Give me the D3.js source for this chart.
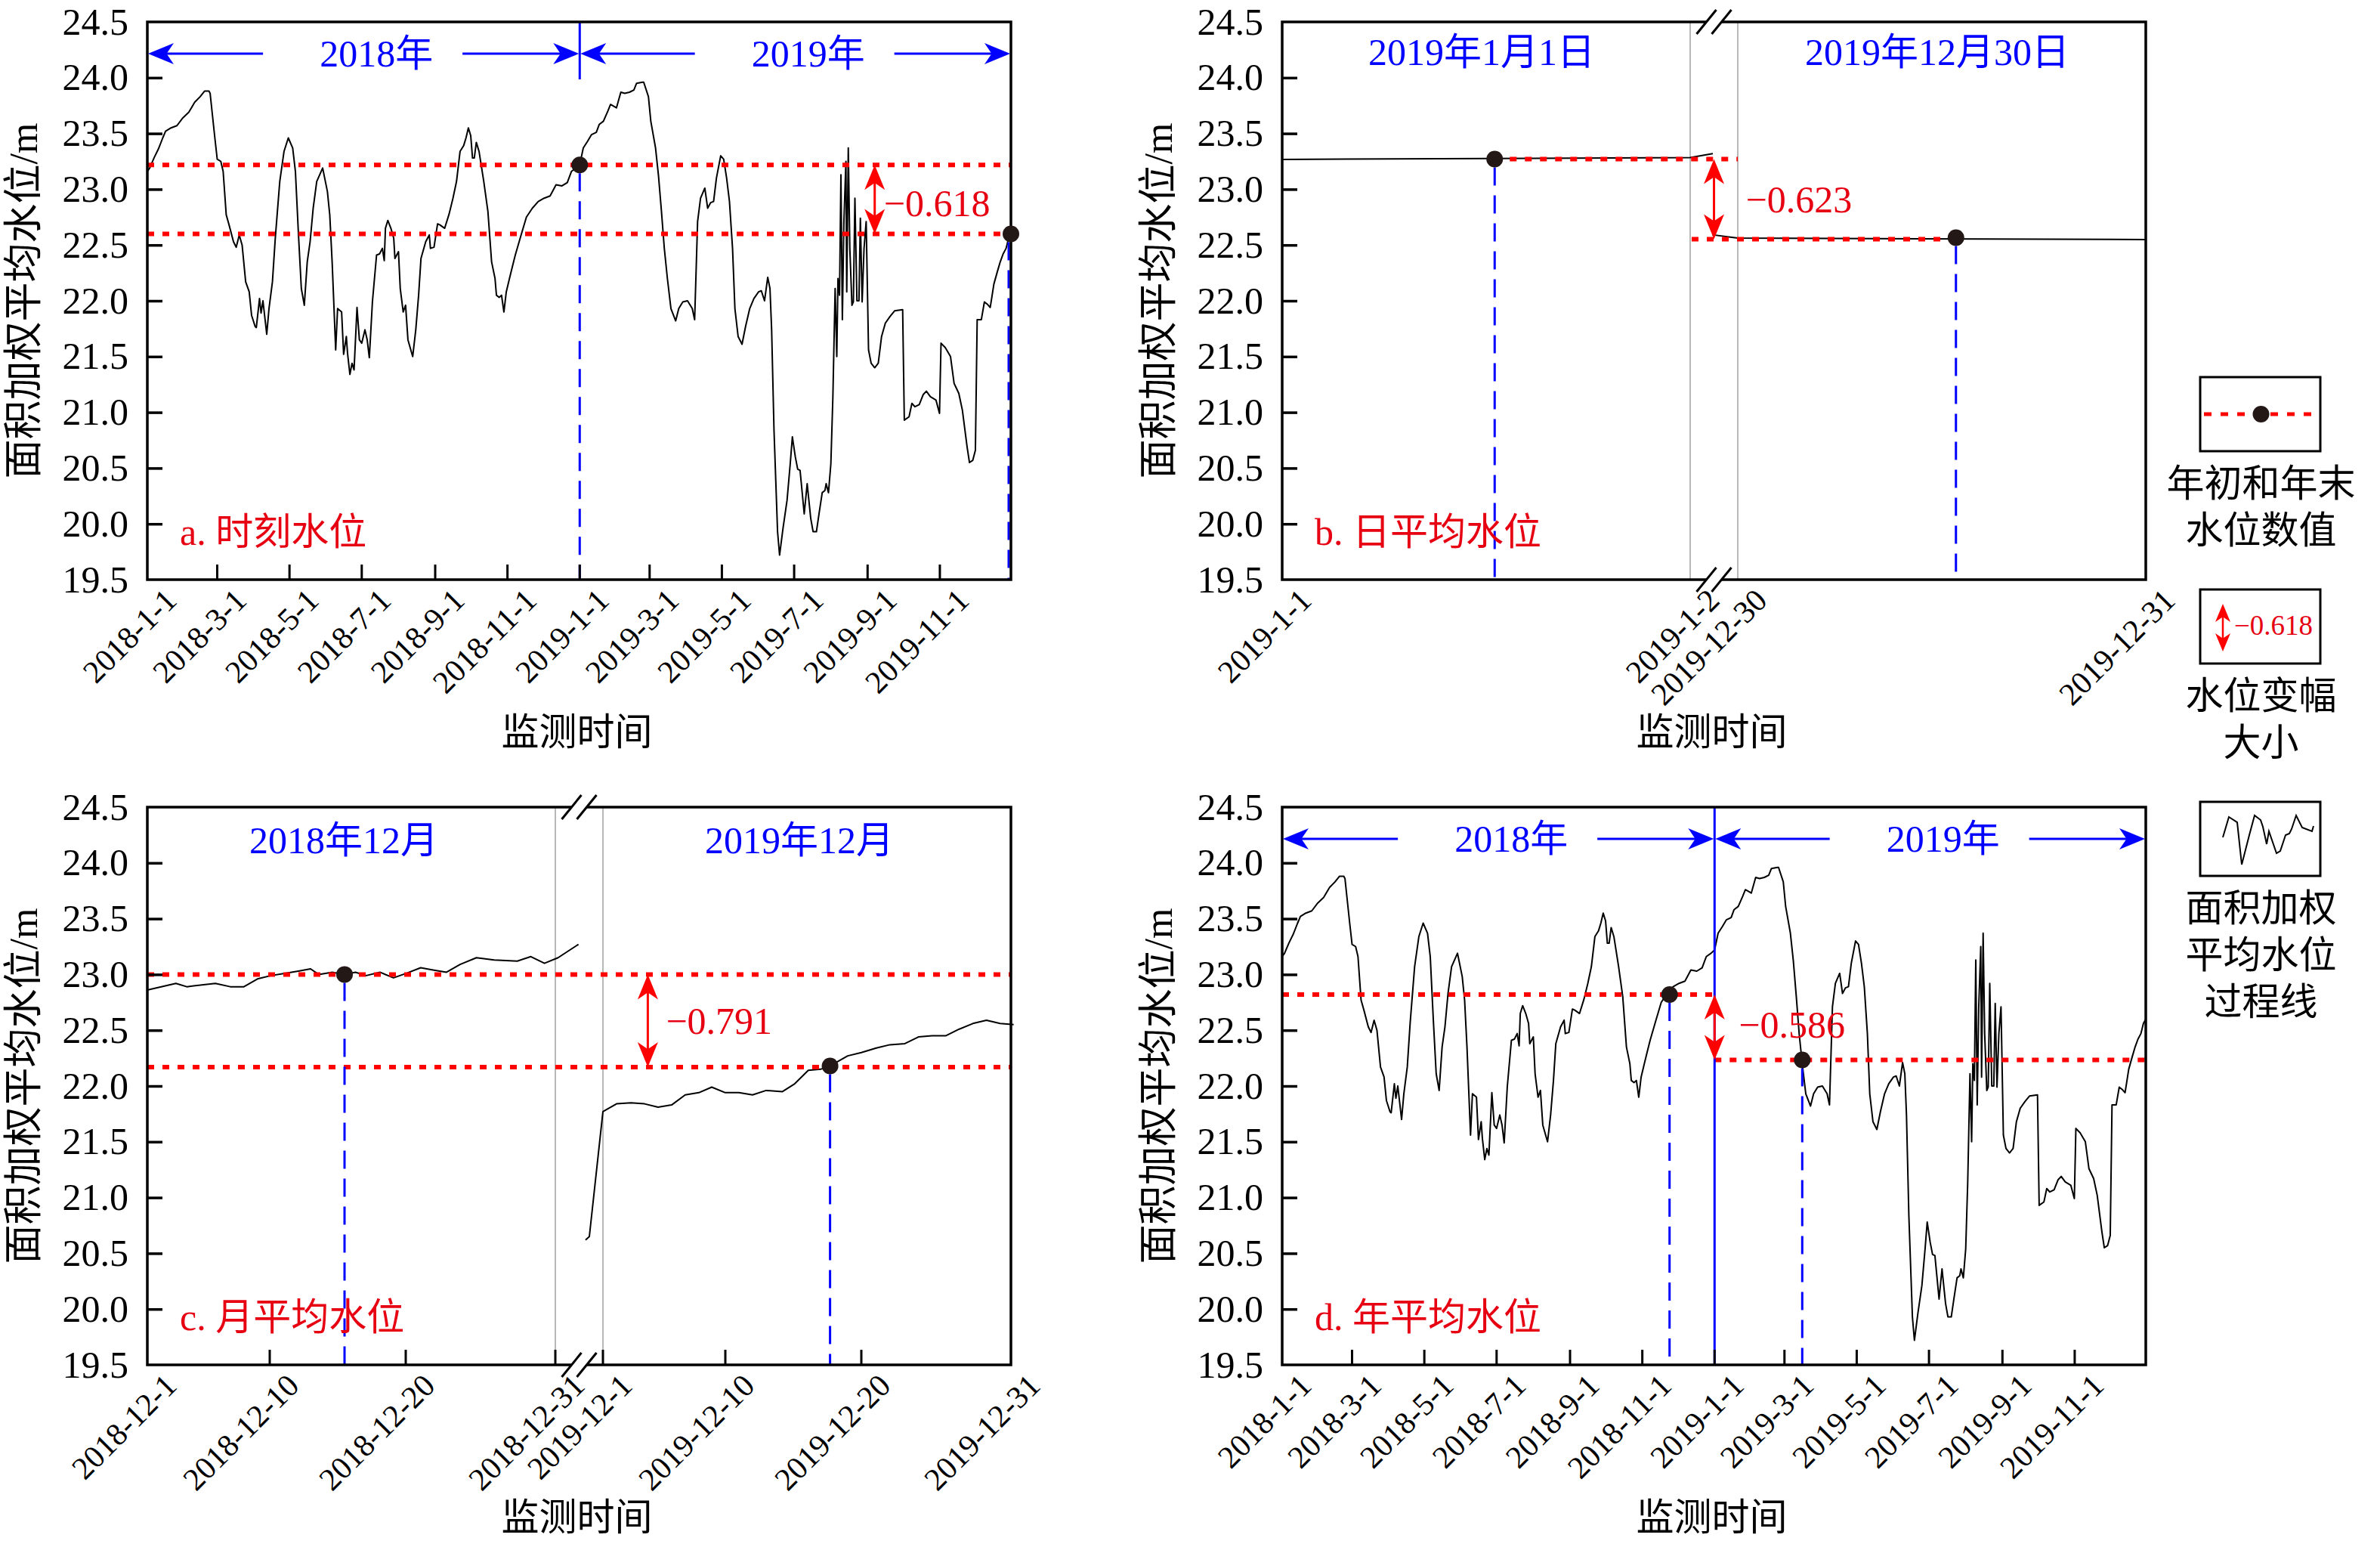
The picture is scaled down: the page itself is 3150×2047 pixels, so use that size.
<!DOCTYPE html>
<html>
<head>
<meta charset="utf-8" />
<script src="https://d3js.org/d3.v7.min.js"></script>
<style>
  body { margin: 0; background: #fff; }
  text { font-family: "Liberation Serif", "Times New Roman", "Noto Sans CJK SC", serif; }
</style>
</head>
<body>
<svg id="chart" width="3150" height="2047" style="background:#fff"></svg>
<script>
// ---------- data ----------
// area-weighted mean water level, days since 2018-01-01
const seriesDay = [0, 2, 5.6, 9.3, 13, 15.4, 20, 25, 30, 35, 40, 44.6, 48.3, 52, 53, 55, 57, 59, 62, 64,
  66.6, 69, 72.7, 75, 77.6, 80, 83, 86, 88, 91, 92, 94.7, 96, 97.6, 100.8, 102.7, 105.6, 108, 111.8, 115.4,
  119, 122.7, 125, 127.6, 130, 132.5, 135, 137.4, 140, 143, 148, 152, 154, 156, 159, 160.6, 164, 165.7, 168, 169,
  171, 172.8, 174.5, 177, 179, 181, 183.7, 185.6, 187.4, 190, 193.5, 196, 198.4, 200, 201, 203, 205.6, 208, 209, 212,
  213.5, 216, 218, 220, 224, 226.6, 229, 231, 235, 238, 239, 242, 245, 247, 251, 254.8, 258, 261, 264, 267,
  269, 271, 273, 274.5, 276, 277.7, 280, 284, 287.5, 290.6, 293.5, 294.7, 297, 299, 301, 303, 305.7, 308, 310.6, 315.5,
  320, 325, 330, 335, 340, 345, 350, 354.5, 358, 362, 365,
  368, 371.6, 375, 379, 381.4, 385, 388.7, 391, 396, 399.7, 403, 407, 410.7, 413, 418, 419, 423, 425, 429, 431.5,
  434, 436.4, 439, 442, 446, 448.6, 452, 456, 460, 462, 464.5, 467, 470.6, 473, 475.5, 478, 480.4, 484, 486.5, 489,
  491.4, 494, 496, 498.7, 502, 505, 508.5, 512, 516, 518.3, 521, 523.7, 525.6, 527, 529, 532, 533.7, 536.6, 540, 542.7,
  544.5, 547, 549, 551, 554.5, 557, 560, 562, 564.8, 567, 569.7, 572, 573, 575, 577, 578.7, 580.6, 582, 583, 584.3,
  585.5, 586.7, 588, 589.7, 590.4, 591.7, 593, 594.8, 596, 597.3, 599, 600.7, 601.9, 603.4, 605, 606.8, 608.8, 611, 614, 617,
  619.8, 623, 627, 630.8, 637.6, 639, 643, 645.4, 648, 651.6, 655, 657.6, 661, 665.7, 668.7, 670, 673.6, 678, 681, 685,
  688, 692, 694, 696.8, 699, 700.5, 704, 706.6, 709, 711.5, 712.7, 714.6, 717.5, 720, 722.4, 724.9, 727, 729];
const seriesLevel = [23.16, 23.19, 23.28, 23.36, 23.46, 23.52, 23.55, 23.57, 23.64, 23.69, 23.78, 23.83, 23.88, 23.88, 23.86, 23.66, 23.46, 23.27, 23.25, 23.16,
  22.77, 22.68, 22.53, 22.48, 22.59, 22.50, 22.17, 22.08, 21.87, 21.77, 21.76, 22.02, 21.89, 22.00, 21.70, 21.93, 22.17, 22.56, 23.07, 23.34,
  23.46, 23.37, 23.16, 22.59, 22.11, 21.96, 22.35, 22.53, 22.83, 23.07, 23.19, 22.98, 22.77, 22.35, 21.56, 21.93, 21.90, 21.52, 21.68, 21.53,
  21.34, 21.44, 21.38, 21.94, 21.65, 21.62, 21.74, 21.65, 21.49, 21.99, 22.41, 22.42, 22.47, 22.36, 22.65, 22.72, 22.65, 22.56, 22.38, 22.44,
  22.11, 21.90, 21.96, 21.65, 21.50, 21.74, 22.05, 22.38, 22.53, 22.59, 22.47, 22.48, 22.69, 22.68, 22.65, 22.78, 22.92, 23.07, 23.34, 23.39,
  23.46, 23.55, 23.48, 23.28, 23.28, 23.42, 23.34, 23.07, 22.80, 22.35, 22.20, 22.05, 22.03, 22.05, 21.90, 22.08, 22.20, 22.30, 22.41, 22.59,
  22.75, 22.83, 22.89, 22.92, 22.94, 23.04, 23.03, 23.06, 23.16, 23.19, 23.22,
  23.37, 23.43, 23.49, 23.51, 23.58, 23.61, 23.70, 23.76, 23.73, 23.87, 23.86, 23.87, 23.89, 23.95, 23.96, 23.96, 23.83, 23.61, 23.37, 23.12,
  22.80, 22.47, 22.20, 21.93, 21.82, 21.93, 21.99, 22.00, 21.93, 21.83, 22.71, 22.92, 23.01, 22.83, 22.88, 22.89, 23.10, 23.30, 23.27, 23.10,
  22.89, 22.47, 21.93, 21.68, 21.61, 21.77, 21.93, 22.02, 22.08, 22.09, 22.00, 22.21, 22.11, 21.74, 20.84, 19.93, 19.72, 19.96, 20.21, 20.54,
  20.78, 20.60, 20.49, 20.48, 20.09, 20.36, 20.05, 19.93, 19.93, 20.09, 20.28, 20.30, 20.36, 20.28, 20.54, 21.14, 22.11, 21.50, 22.20, 22.05,
  23.13, 21.83, 22.71, 23.25, 22.08, 23.37, 22.47, 21.96, 21.99, 22.92, 22.00, 22.00, 22.74, 21.99, 22.47, 22.71, 21.56, 21.44, 21.40, 21.44,
  21.68, 21.80, 21.86, 21.91, 21.92, 20.93, 20.96, 21.08, 21.05, 21.07, 21.16, 21.19, 21.14, 21.11, 20.99, 21.62, 21.58, 21.50, 21.26, 21.17,
  21.02, 20.69, 20.55, 20.57, 20.66, 21.83, 21.83, 21.99, 21.97, 21.94, 22.02, 22.15, 22.26, 22.35, 22.42, 22.47, 22.56, 22.60];

// panel b: daily mean, first and last days of 2019
const dayStartTime = ["2019-1-1 00:00", "2019-1-2 00:00", "2019-1-2 01:20"];
const dayStartLevel = [23.267, 23.284, 23.32];
const dayEndTime = ["2019-12-29 22:30", "2019-12-30 00:00", "2019-12-31 00:00"];
const dayEndLevel = [22.592, 22.562, 22.549];

// panel c: monthly mean, days since the 1st of December
const dec2018Day = [0, 2.1, 2.9, 5.0, 6.1, 7.1, 8.1, 9.1, 10.1, 11.1, 12.0, 12.6, 13.6, 14.5, 15.3, 16.1, 17.1, 18.1, 19.05, 20.1,
  21.0, 22.0, 23.0, 24.2, 25.5, 27.2, 28.2, 29.2, 30.2, 31.7];
const dec2018Level = [22.86, 22.92, 22.89, 22.92, 22.89, 22.89, 22.96, 22.99, 23.01, 23.03, 23.05, 23.00, 23.02, 23.00, 23.02, 22.99, 23.02, 22.97, 23.01, 23.06,
  23.04, 23.02, 23.09, 23.15, 23.13, 23.12, 23.16, 23.10, 23.15, 23.27];
const dec2019Day = [-1.28, -1.0, 0, 1.0, 2.06, 3.06, 4.05, 5.05, 6.05, 7.05, 8.0, 9.0, 10.0, 11.0, 12.0, 13.2, 14.1, 15.1, 16.0, 16.7,
  18.0, 19.0, 20.1, 21.1, 22.2, 23.2, 24.2, 25.2, 26.2, 27.2, 28.2, 29.2, 30.2];
const dec2019Level = [20.62, 20.65, 21.77, 21.84, 21.85, 21.84, 21.81, 21.83, 21.92, 21.94, 21.99, 21.94, 21.94, 21.92, 21.96, 21.95, 22.02, 22.14, 22.15, 22.18,
  22.27, 22.30, 22.34, 22.37, 22.38, 22.44, 22.45, 22.45, 22.51, 22.56, 22.59, 22.56, 22.55];

// start / end reference levels and change labels
const levelA = [23.218, 22.600], changeA = "\u22120.618";
const levelB = [23.270, 22.553], changeB = "\u22120.623";
const levelC = [23.000, 22.170], changeC = "\u22120.791";
const levelD = [22.820, 22.234], changeD = "\u22120.586";
const dotB = [["2019-1-1 12:30", 23.270], ["2019-12-30 12:50", 22.566]];
const dotC = [[14.5, 23.00], [16.7, 22.18]];
const dotD = [["2018-11-24", 22.82], ["2019-3-16", 22.234]];

// axis ticks and labels
const yLevels = [19.5, 20.0, 20.5, 21.0, 21.5, 22.0, 22.5, 23.0, 23.5, 24.0, 24.5];
const yearTicks = ["2018-1-1", "2018-3-1", "2018-5-1", "2018-7-1", "2018-9-1", "2018-11-1",
  "2019-1-1", "2019-3-1", "2019-5-1", "2019-7-1", "2019-9-1", "2019-11-1"];
const dayTicksB = ["2019-1-1", "2019-1-2", "2019-12-30", "2019-12-31"];
const monthTicks2018 = ["2018-12-1", "2018-12-10", "2018-12-20", "2018-12-31"];
const monthTicks2019 = ["2019-12-1", "2019-12-10", "2019-12-20", "2019-12-31"];
const yearNames = ["2018年", "2019年"];
const dayNames = ["2019年1月1日", "2019年12月30日"];
const monthNames = ["2018年12月", "2019年12月"];
const panelNames = ["a. 时刻水位", "b. 日平均水位", "c. 月平均水位", "d. 年平均水位"];
const yTitle = "面积加权平均水位/m";
const xTitle = "监测时间";
const legendNames = [["年初和年末", "水位数值"], ["水位变幅", "大小"], ["面积加权", "平均水位", "过程线"]];
// little sketch of a water-level curve for the legend
const legendWiggleX = [0, 8, 19, 25, 35, 42, 50, 53, 58, 61, 71, 76, 83, 88, 91, 97, 105, 118, 120];
const legendWiggleY = [22.66, 23.91, 23.58, 21.0, 22.8, 24.0, 23.72, 23.31, 22.25, 23.03, 21.69, 21.83, 22.8, 22.89, 23.17, 24.0, 23.26, 23.03, 23.35];

// ---------- drawing ----------
const svg = d3.select("#chart");
const W = 1143, H = 738;
const RED = "#ff0000", TXTRED = "#e60012", BLUE = "#0000ff", DOT = "#231815";
const parseD = d3.timeParse("%Y-%m-%d");
const parseT = d3.timeParse("%Y-%m-%d %H:%M");
const start2018 = parseD("2018-1-1");
const addDays = (base, n) => new Date(base.getTime() + n * 864e5);

const series = seriesDay.map((d, i) => ({ t: addDays(start2018, d), v: seriesLevel[i] }));

function makePanel(left, top) {
  const g = svg.append("g");
  const y = d3.scaleLinear().domain([19.5, 24.5]).range([top + H, top]);
  return { g, y, left, top, right: left + W, bottom: top + H };
}

function yAxis(p) {
  const ax = p.g.append("g").attr("transform", `translate(${p.left},0)`)
    .call(d3.axisLeft(p.y).tickValues(yLevels).tickFormat(d3.format(".1f")).tickSize(-20).tickPadding(25));
  ax.select(".domain").remove();
  ax.selectAll(".tick line").attr("stroke", "#000").attr("stroke-width", 3.5)
    .filter(d => d === 19.5 || d === 24.5).remove();
  ax.selectAll(".tick text").attr("font-size", 50).attr("fill", "#000")
    .style("font-family", '"Liberation Serif", serif');
  p.g.append("text")
    .attr("transform", `translate(${p.left - 164},${p.top + H / 2}) rotate(-90)`)
    .attr("text-anchor", "middle").attr("dominant-baseline", "central")
    .attr("font-size", 52).text(yTitle);
  p.g.append("text").attr("x", p.left + W / 2 - 3).attr("y", p.top + 957)
    .attr("text-anchor", "middle").attr("font-size", 50).text(xTitle);
  p.g.append("text").attr("x", p.left + 43).attr("y", p.bottom - 46)
    .attr("font-size", 50).attr("fill", TXTRED).text(p.name);
}

function xTicks(p, scale, dates, withMarks) {
  dates.forEach(s => {
    const x = scale(parseD(s));
    if (withMarks && Math.abs(x - p.left) > 2 && Math.abs(x - p.right) > 2) {
      p.g.append("line").attr("x1", x).attr("x2", x).attr("y1", p.bottom).attr("y2", p.bottom - 20)
        .attr("stroke", "#000").attr("stroke-width", 3);
    }
    p.g.append("text").attr("transform", `translate(${x + 41},${p.bottom + 30}) rotate(-45)`)
      .attr("text-anchor", "end").attr("font-size", 42).text(s);
  });
}

function frame(p) {
  p.g.append("rect").attr("x", p.left).attr("y", p.top).attr("width", W).attr("height", H)
    .attr("fill", "none").attr("stroke", "#000").attr("stroke-width", 3.5);
}

function hDotted(p, x1, x2, v) {
  p.g.append("line").attr("x1", x1).attr("x2", x2).attr("y1", p.y(v)).attr("y2", p.y(v))
    .attr("stroke", RED).attr("stroke-width", 6).attr("stroke-dasharray", "9 11");
}

function vDashed(p, x, v) {
  p.g.append("line").attr("x1", x).attr("x2", x).attr("y1", p.y(v) + 11).attr("y2", p.bottom)
    .attr("stroke", BLUE).attr("stroke-width", 3).attr("stroke-dasharray", "24 13");
}

function dot(g, x, y) {
  g.append("circle").attr("cx", x).attr("cy", y).attr("r", 11).attr("fill", DOT);
}

function headPath(x, y, dx, dy, len, half) {
  // stealth-like arrow head; (dx,dy) is the pointing direction
  const px = -dy, py = dx, notch = len * 0.72;
  return `M${x},${y} L${x - dx * len + px * half},${y - dy * len + py * half} ` +
    `L${x - dx * notch},${y - dy * notch} L${x - dx * len - px * half},${y - dy * len - py * half} Z`;
}

function doubleArrow(g, x, y1, y2, len, half, w) {
  g.append("line").attr("x1", x).attr("x2", x).attr("y1", y1 + len * 0.6).attr("y2", y2 - len * 0.6)
    .attr("stroke", RED).attr("stroke-width", w);
  g.append("path").attr("d", headPath(x, y1, 0, -1, len, half)).attr("fill", RED);
  g.append("path").attr("d", headPath(x, y2, 0, 1, len, half)).attr("fill", RED);
}

function change(p, x, levels, label, dx, dyBase) {
  doubleArrow(p.g, x, p.y(levels[0]), p.y(levels[1]), 33, 13.5, 3);
  p.g.append("text").attr("x", x + dx).attr("y", (p.y(levels[0]) + p.y(levels[1])) / 2 + dyBase)
    .attr("font-size", 50).attr("fill", TXTRED).text(label);
}

function yearArrows(p, xMid) {
  const ay = p.top + 42;
  [[p.left, xMid], [xMid, p.right]].forEach(([a, b], i) => {
    const c = (a + b) / 2 + 17;
    const tl = c - 150, tr = c + 114;
    p.g.append("line").attr("x1", a + 24).attr("x2", tl).attr("y1", ay).attr("y2", ay)
      .attr("stroke", BLUE).attr("stroke-width", 3);
    p.g.append("line").attr("x1", tr).attr("x2", b - 24).attr("y1", ay).attr("y2", ay)
      .attr("stroke", BLUE).attr("stroke-width", 3);
    p.g.append("path").attr("d", headPath(a + 1, ay, -1, 0, 34, 14)).attr("fill", BLUE);
    p.g.append("path").attr("d", headPath(b - 1, ay, 1, 0, 34, 14)).attr("fill", BLUE);
    p.g.append("text").attr("x", c).attr("y", ay + 17).attr("text-anchor", "middle")
      .attr("font-size", 50).attr("fill", BLUE).text(yearNames[i]);
  });
}

function axisBreak(p, cx) {
  [p.top, p.bottom].forEach(y => {
    p.g.append("line").attr("x1", cx - 12).attr("x2", cx + 12).attr("y1", y + 15).attr("y2", y - 15)
      .attr("stroke", "#fff").attr("stroke-width", 16);
    [-10, 10].forEach(o => p.g.append("line")
      .attr("x1", cx + o - 13).attr("x2", cx + o + 13).attr("y1", y + 16).attr("y2", y - 16)
      .attr("stroke", "#000").attr("stroke-width", 3));
  });
}

function grayLine(p, x) {
  p.g.append("line").attr("x1", x).attr("x2", x).attr("y1", p.top).attr("y2", p.bottom)
    .attr("stroke", "#a0a0a0").attr("stroke-width", 1.5);
}

function drawLine(p, data, xs) {
  p.g.append("path").datum(data)
    .attr("d", d3.line().x(d => xs(d.t)).y(d => p.y(d.v)))
    .attr("fill", "none").attr("stroke", "#000").attr("stroke-width", 2).attr("stroke-linejoin", "round");
}

// ----- panels a and d: instantaneous / yearly mean -----
function yearPanel(left, top, name, levels, label, mode) {
  const p = makePanel(left, top);
  p.name = name;
  const x = d3.scaleTime().domain([start2018, parseD("2019-12-31")]).range([p.left, p.right]);
  const xMid = x(parseD("2019-1-1"));
  drawLine(p, series, x);
  if (mode === "a") {
    hDotted(p, p.left, p.right, levels[0]);
    hDotted(p, p.left, p.right, levels[1]);
    p.g.append("line").attr("x1", xMid).attr("x2", xMid).attr("y1", p.top).attr("y2", p.top + 76)
      .attr("stroke", BLUE).attr("stroke-width", 3);
    vDashed(p, xMid, levels[0]);
    vDashed(p, p.right - 3, levels[1]);
  } else {
    hDotted(p, p.left, xMid, levels[0]);
    hDotted(p, xMid, p.right, levels[1]);
    p.g.append("line").attr("x1", xMid).attr("x2", xMid).attr("y1", p.top).attr("y2", p.bottom)
      .attr("stroke", BLUE).attr("stroke-width", 3);
    dotD.forEach(d => vDashed(p, x(parseD(d[0])), d[1]));
  }
  frame(p);
  yAxis(p);
  xTicks(p, x, yearTicks, true);
  yearArrows(p, xMid);
  if (mode === "a") {
    change(p, x(parseD("2019-9-7")), levels, label, 12, 22);
    dot(p.g, xMid, p.y(levels[0]));
    dot(p.g, p.right, p.y(levels[1]));
  } else {
    change(p, xMid, levels, label, 32, 14);
    dotD.forEach(d => dot(p.g, x(parseD(d[0])), p.y(d[1])));
  }
}

yearPanel(195, 29, panelNames[0], levelA, changeA, "a");
yearPanel(1697, 1068, panelNames[3], levelD, changeD, "d");

// ----- panel b: daily mean with broken axis -----
(function () {
  const p = makePanel(1697, 29);
  p.name = panelNames[1];
  const xl = d3.scaleTime().domain([parseD("2019-1-1"), parseD("2019-1-2")]).range([p.left, p.left + 540]);
  const xr = d3.scaleTime().domain([parseD("2019-12-30"), parseD("2019-12-31")]).range([p.left + 603, p.right]);
  const cx = p.left + 571.5;
  grayLine(p, p.left + 540);
  grayLine(p, p.left + 603);
  drawLine(p, dayStartTime.map((s, i) => ({ t: parseT(s), v: dayStartLevel[i] })), xl);
  drawLine(p, dayEndTime.map((s, i) => ({ t: parseT(s), v: dayEndLevel[i] })), xr);
  const d1x = xl(parseT(dotB[0][0])), d2x = xr(parseT(dotB[1][0]));
  hDotted(p, d1x, p.left + 603, levelB[0]);
  hDotted(p, p.left + 542, d2x, levelB[1]);
  vDashed(p, d1x, dotB[0][1]);
  vDashed(p, d2x, dotB[1][1]);
  frame(p);
  axisBreak(p, cx);
  yAxis(p);
  xTicks(p, s => (s <= parseD("2019-1-2") ? xl(s) : xr(s)), dayTicksB, false);
  [[p.left + 270, dayNames[0]], [p.left + 873, dayNames[1]]].forEach(([x, t]) =>
    p.g.append("text").attr("x", x - 6).attr("y", p.top + 57).attr("text-anchor", "middle")
      .attr("font-size", 50).attr("fill", BLUE).text(t));
  change(p, cx, levelB, changeB, 42, 18);
  dot(p.g, d1x, p.y(dotB[0][1]));
  dot(p.g, d2x, p.y(dotB[1][1]));
})();

// ----- panel c: monthly mean with broken axis -----
(function () {
  const p = makePanel(195, 1068);
  p.name = panelNames[2];
  const dec18 = parseD("2018-12-1"), dec19 = parseD("2019-12-1");
  const xl = d3.scaleTime().domain([dec18, parseD("2018-12-31")]).range([p.left, p.left + 540]);
  const xr = d3.scaleTime().domain([dec19, parseD("2019-12-31")]).range([p.left + 603, p.right]);
  const cx = p.left + 571.5;
  grayLine(p, p.left + 540);
  grayLine(p, p.left + 603);
  drawLine(p, dec2018Day.map((d, i) => ({ t: addDays(dec18, d), v: dec2018Level[i] })), xl);
  drawLine(p, dec2019Day.map((d, i) => ({ t: addDays(dec19, d), v: dec2019Level[i] })), xr);
  hDotted(p, p.left, p.right, levelC[0]);
  hDotted(p, p.left, p.right, levelC[1]);
  const d1x = xl(addDays(dec18, dotC[0][0])), d2x = xr(addDays(dec19, dotC[1][0]));
  vDashed(p, d1x, dotC[0][1]);
  vDashed(p, d2x, dotC[1][1]);
  frame(p);
  axisBreak(p, cx);
  yAxis(p);
  xTicks(p, xl, monthTicks2018, true);
  xTicks(p, xr, monthTicks2019, true);
  [[p.left + 270, monthNames[0]], [p.left + 873, monthNames[1]]].forEach(([x, t]) =>
    p.g.append("text").attr("x", x - 10).attr("y", p.top + 61).attr("text-anchor", "middle")
      .attr("font-size", 50).attr("fill", BLUE).text(t));
  change(p, xr(addDays(dec19, 3.3)), levelC, changeC, 24, 17);
  dot(p.g, d1x, p.y(dotC[0][1]));
  dot(p.g, d2x, p.y(dotC[1][1]));
})();

// ----- legend -----
(function () {
  const lg = svg.append("g");
  const bx = 2912, bw = 159, bh = 98, cxL = bx + bw / 2;
  const boxes = [499, 780, 1061];
  boxes.forEach((by, i) => {
    lg.append("rect").attr("x", bx).attr("y", by).attr("width", bw).attr("height", bh)
      .attr("fill", "none").attr("stroke", "#000").attr("stroke-width", 3);
    legendNames[i].forEach((t, j) => lg.append("text").attr("x", cxL + 1).attr("y", by + bh + 60 + j * 62)
      .attr("text-anchor", "middle").attr("font-size", 50).text(t));
  });
  // box 1: dotted line with dot
  lg.append("line").attr("x1", bx + 5).attr("x2", bx + bw - 9).attr("y1", 548).attr("y2", 548)
    .attr("stroke", RED).attr("stroke-width", 5).attr("stroke-dasharray", "10 12");
  dot(lg, cxL + 1, 548);
  // box 2: small double arrow and label
  doubleArrow(lg, bx + 30, 799, 862, 24, 10, 2.5);
  lg.append("text").attr("x", bx + 45).attr("y", 840).attr("font-size", 37).attr("fill", TXTRED).text(changeA);
  // box 3: curve sketch
  const lx = d3.scaleLinear().domain([0, 120]).range([bx + 30, bx + 150]);
  const ly = d3.scaleLinear().domain([21, 24]).range([1144, 1079]);
  lg.append("path").datum(legendWiggleX.map((d, i) => [d, legendWiggleY[i]]))
    .attr("d", d3.line().x(d => lx(d[0])).y(d => ly(d[1])))
    .attr("fill", "none").attr("stroke", "#000").attr("stroke-width", 2);
})();
</script>
</body>
</html>
